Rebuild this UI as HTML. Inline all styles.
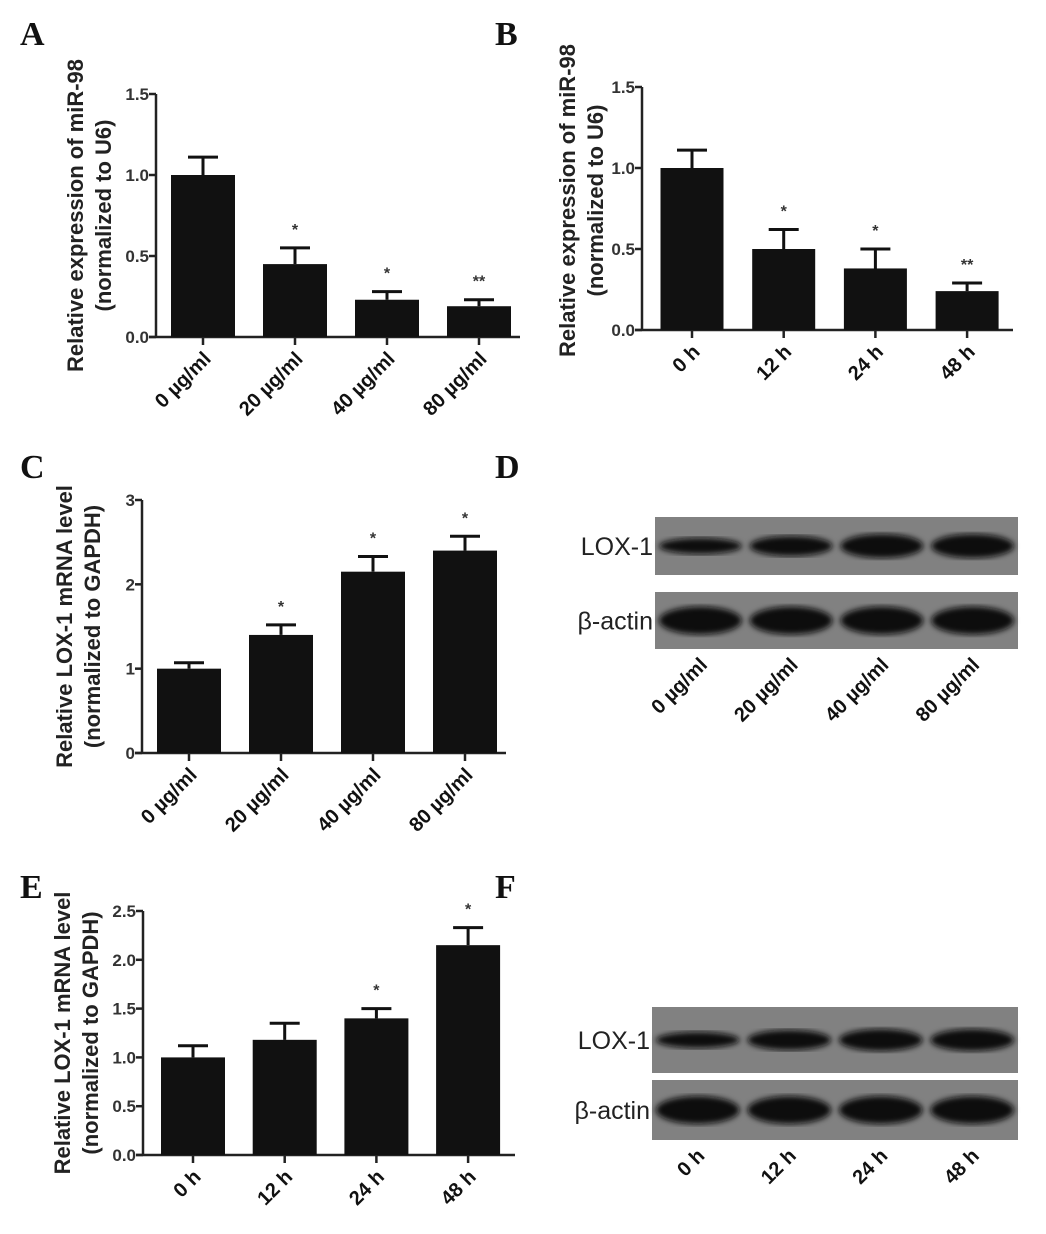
<!DOCTYPE html>
<html><head><meta charset="utf-8">
<style>
html,body{margin:0;padding:0;background:#fff;}
svg{display:block;}
text{font-family:"Liberation Sans",Arial,sans-serif;fill:#111;}
.letter{font-family:"Liberation Serif",serif;font-weight:bold;font-size:34px;}
.tick{font-size:17px;font-weight:bold;fill:#333;}
.sig{font-size:16px;font-weight:bold;fill:#333;}
.cat{font-size:20px;font-weight:bold;}
.ytitle{font-size:22px;font-weight:bold;fill:#222;}
.blotlab{font-size:25px;fill:#222;}
</style></head>
<body>
<svg id="fig" width="1046" height="1234" viewBox="0 0 1046 1234">
<defs>
<filter id="blur"><feGaussianBlur stdDeviation="3"/></filter>
</defs>
<text class="letter" x="20" y="45">A</text>
<text class="letter" x="495" y="45">B</text>
<text class="letter" x="20" y="478">C</text>
<text class="letter" x="495" y="478">D</text>
<text class="letter" x="20" y="898">E</text>
<text class="letter" x="495" y="898">F</text>
</svg>
<script>
const catsDose = ["0 µg/ml","20 µg/ml","40 µg/ml","80 µg/ml"];
const catsTime = ["0 h","12 h","24 h","48 h"];
const valsA = [1.0,0.45,0.23,0.19];
const errA = [0.11,0.10,0.05,0.04];
const sigA = ["","*","*","**"];
const valsB = [1.0,0.50,0.38,0.24];
const errB = [0.11,0.12,0.12,0.05];
const sigB = ["","*","*","**"];
const valsC = [1.0,1.4,2.15,2.4];
const errC = [0.07,0.12,0.18,0.17];
const sigC = ["","*","*","*"];
const valsE = [1.0,1.18,1.4,2.15];
const errE = [0.12,0.17,0.10,0.18];
const sigE = ["","","*","*"];
const ticksA = ["0.0","0.5","1.0","1.5"];
const ticksC = ["0","1","2","3"];
const ticksE = ["0.0","0.5","1.0","1.5","2.0","2.5"];

const NS="http://www.w3.org/2000/svg";
const svg=document.getElementById('fig');
function mk(tag,attrs,parent){const e=document.createElementNS(NS,tag);for(const k in attrs)e.setAttribute(k,attrs[k]);(parent||svg).appendChild(e);return e;}

function chart(id,cfg){
  const g=mk('g',{});
  
  
  const ymax=Number(cfg.ticks[cfg.ticks.length-1]);
  const y=v=>cfg.y0-(v/ymax)*(cfg.y0-cfg.yTop);
  const x=i=>cfg.x0+cfg.first+i*cfg.step;
  const ya=mk('line',{x1:cfg.x0,y1:cfg.yTop,x2:cfg.x0,y2:cfg.y0,stroke:'#222','stroke-width':2.5},g);
  
  
  const xa=mk('line',{x1:cfg.x0-7,y1:cfg.y0,x2:cfg.xEnd,y2:cfg.y0,stroke:'#222','stroke-width':2.5},g);
  
  
  cfg.ticks.forEach(t=>{
    const yy=y(Number(t));
    mk('line',{x1:cfg.x0-7,y1:yy,x2:cfg.x0,y2:yy,stroke:'#222','stroke-width':2.5},g);
    const tx=mk('text',{x:cfg.x0-7,y:yy+6,'text-anchor':'end',class:'tick'},g);
    tx.textContent=t;
    
    
  });
  cfg.vals.forEach((v,i)=>{
    const cx=x(i);
    const eb=mk('path',{d:`M${cx} ${y(v)} V${y(v+cfg.err[i])} M${cx-15} ${y(v+cfg.err[i])} H${cx+15}`,stroke:'#111','stroke-width':3,fill:'none'},g);
    
    
    const r=mk('rect',{x:cx-cfg.bw/2,y:y(v),width:cfg.bw,height:cfg.y0-y(v),fill:'#111'},g);
    
    
    mk('line',{x1:cx,y1:cfg.y0,x2:cx,y2:cfg.y0+8,stroke:'#222','stroke-width':2.5},g);
    if(cfg.sig[i]){
      const s=mk('text',{x:cx,y:y(v+cfg.err[i])-13,'text-anchor':'middle',class:'sig'},g);
      s.textContent=cfg.sig[i];
      
      
    }
    const c=mk('text',{x:cx+9,y:cfg.y0+23,'text-anchor':'end',class:'cat',transform:`rotate(-45 ${cx+9} ${cfg.y0+23})`},g);
    c.textContent=cfg.cats[i];
    
    
  });
  const my=(cfg.y0+cfg.yTop)/2+cfg.titleDy;
  cfg.title.forEach((t,k)=>{
    const tx=cfg.titleX+k*28;
    const tt=mk('text',{x:tx,y:my,'text-anchor':'middle',class:'ytitle',transform:`rotate(-90 ${tx} ${my})`},g);
    tt.textContent=t;
    
    
  });
}
chart('a',{x0:156,y0:337,yTop:94,xEnd:520,first:47,step:92,bw:64,vals:valsA,err:errA,sig:sigA,cats:catsDose,ticks:ticksA,title:["Relative expression of miR-98","(normalized to U6)"],titleX:83,titleDy:0});
chart('b',{x0:642,y0:330,yTop:87,xEnd:1013,first:50,step:91.7,bw:63,vals:valsB,err:errB,sig:sigB,cats:catsTime,ticks:ticksA,title:["Relative expression of miR-98","(normalized to U6)"],titleX:575,titleDy:-8});
chart('c',{x0:142,y0:753,yTop:500,xEnd:506,first:47,step:92,bw:64,vals:valsC,err:errC,sig:sigC,cats:catsDose,ticks:ticksC,title:["Relative LOX-1 mRNA level","(normalized to GAPDH)"],titleX:72,titleDy:0});
chart('e',{x0:143,y0:1155,yTop:911,xEnd:515,first:50,step:91.7,bw:64,vals:valsE,err:errE,sig:sigE,cats:catsTime,ticks:ticksE,title:["Relative LOX-1 mRNA level","(normalized to GAPDH)"],titleX:70,titleDy:0});

function blot(id,box,bands,label,labX){
  const g=mk('g',{});
  
  
  mk('rect',{x:box.x,y:box.y,width:box.w,height:box.h,fill:'#818181'},g);
  const bw=box.w/4;
  bands.forEach((th,i)=>{
    mk('ellipse',{cx:box.x+bw*(i+0.5),cy:box.y+box.h/2,rx:bw/2-4,ry:th,fill:'#0c0c0c',filter:'url(#blur)'},g);
  });
  const t=mk('text',{x:labX,y:box.y+box.h/2+9,'text-anchor':'end',class:'blotlab'},g);
  t.textContent=label;
  
  
}
blot('blot-d-lox1',{x:655,y:517,w:363,h:58},[8,10,12,12],'LOX-1',653);
blot('blot-d-actin',{x:655,y:592,w:363,h:57},[14,14,14,14],'β-actin',653);
blot('blot-f-lox1',{x:652,y:1007,w:366,h:66},[8,10,11,11],'LOX-1',650);
blot('blot-f-actin',{x:652,y:1080,w:366,h:60},[14,14,14,14],'β-actin',650);

function blotCats(cats,x0,w,yy,id){
  cats.forEach((c,i)=>{
    const cx=x0+w/4*(i+0.5)+8;
    const t=mk('text',{x:cx,y:yy,'text-anchor':'end',class:'cat',transform:`rotate(-45 ${cx} ${yy})`});
    t.textContent=c;
    
    
  });
}
blotCats(catsDose,655,363,666,'blot-d-category-label');
blotCats(catsTime,652,366,1157,'blot-f-category-label');
</script>
</body></html>
